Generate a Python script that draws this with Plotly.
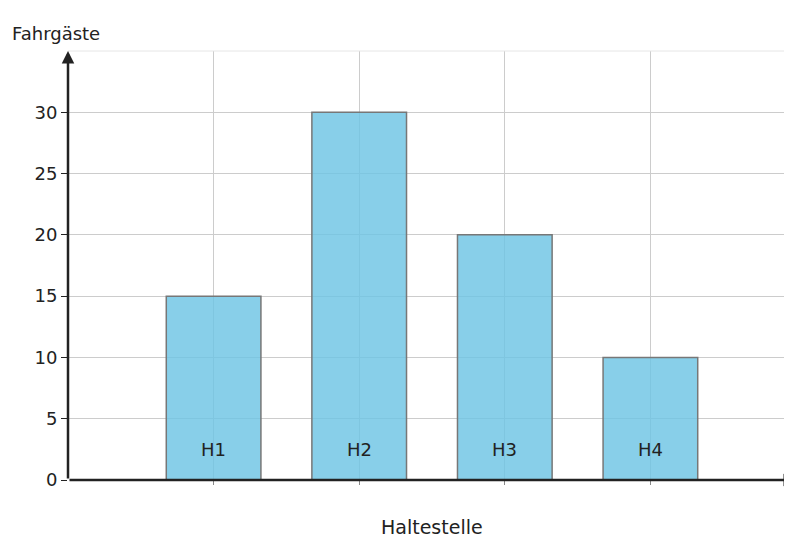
import plotly.graph_objects as go

categories = ["H1", "H2", "H3", "H4"]
values = [15, 30, 20, 10]
positions = [1, 2, 3, 4]
yticks = [0, 5, 10, 15, 20, 25, 30]

font = dict(family="DejaVu Sans", size=18, color="#222")
fig = go.Figure()
fig.add_trace(go.Bar(x=positions, y=values, width=0.65,
                     marker=dict(color="rgba(110,196,228,0.82)", line=dict(color="#777", width=1.5)),
                     textposition="none", hoverinfo="skip"))
for p, c in zip(positions, categories):
    fig.add_annotation(x=p, y=2.5, text=c, showarrow=False, font=font)

fig.update_layout(
    width=792, height=548, margin=dict(l=60, r=4, t=43, b=76),
    plot_bgcolor="white", paper_bgcolor="white", showlegend=False, font=font,
    xaxis=dict(range=[0, 5], tickvals=[1, 2, 3, 4, 5], showticklabels=False,
               showgrid=True, gridcolor="#ccc", gridwidth=1, zeroline=False,
               ticks="outside", ticklen=4, tickcolor="#888", layer="below traces"),
    yaxis=dict(range=[0, 35], tickvals=yticks, showgrid=True, gridcolor="#ccc", gridwidth=1,
               zeroline=False, ticks="outside", ticklen=6, tickcolor="#222", tickfont=font),
)
fig.add_shape(type="line", xref="paper", yref="paper", x0=0, x1=1, y0=1, y1=1,
              line=dict(color="#e6e6e6", width=1))
fig.add_annotation(xref="x domain", yref="y domain", x=1.0, y=0, ax=0, ay=0,
                   axref="x domain", ayref="y domain",
                   showarrow=True, arrowhead=2, arrowsize=1, arrowwidth=2.5, arrowcolor="#222", text="")
fig.add_annotation(xref="x domain", yref="y domain", x=0, y=1.0, ax=0, ay=0,
                   axref="x domain", ayref="y domain",
                   showarrow=True, arrowhead=2, arrowsize=1, arrowwidth=2.5, arrowcolor="#222", text="")
fig.add_annotation(xref="paper", yref="paper", x=-0.079, y=1.0, yshift=30, xanchor="left",
                   text="Fahrgäste", showarrow=False, font=font)
fig.add_annotation(xref="paper", yref="paper", x=0.5, y=0, yshift=-60,
                   text="Haltestelle", showarrow=False, font=dict(family="DejaVu Sans", size=19, color="#222"))
fig.write_html("out.html")
